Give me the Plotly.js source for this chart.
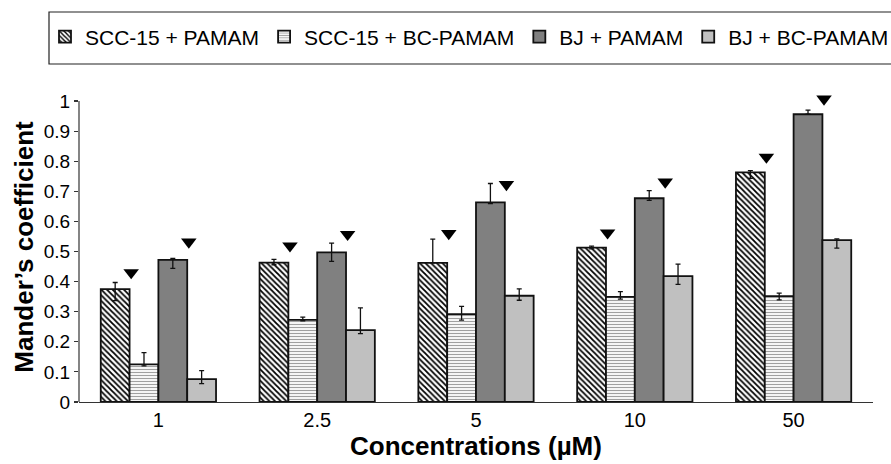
<!DOCTYPE html>
<html>
<head>
<meta charset="utf-8">
<script src="https://cdn.plot.ly/plotly-3.0.1.min.js"></script>
<style>
  html, body { margin: 0; padding: 0; background: #fff; }
  #chart { width: 891px; height: 464px; }
</style>
</head>
<body>
<div id="chart"></div>
<script>
// ---- data ----
const categories = ['1', '2.5', '5', '10', '50'];
const seriesNames = ['SCC-15 + PAMAM', 'SCC-15 + BC-PAMAM', 'BJ + PAMAM', 'BJ + BC-PAMAM'];

const sccPamam      = [0.375, 0.463, 0.462, 0.513, 0.763];
const sccPamamUp    = [0.022, 0.011, 0.079, 0.005, 0.006];
const sccPamamDown  = [0.038, 0.007, 0.000, 0.004, 0.020];

const sccBcPamam     = [0.125, 0.273, 0.292, 0.349, 0.352];
const sccBcPamamUp   = [0.039, 0.009, 0.026, 0.018, 0.010];
const sccBcPamamDown = [0.005, 0.003, 0.020, 0.007, 0.013];

const bjPamam      = [0.472, 0.497, 0.663, 0.677, 0.956];
const bjPamamUp    = [0.005, 0.031, 0.063, 0.025, 0.014];
const bjPamamDown  = [0.028, 0.030, 0.004, 0.007, 0.000];

const bjBcPamam     = [0.076, 0.239, 0.353, 0.418, 0.538];
const bjBcPamamUp   = [0.028, 0.074, 0.023, 0.040, 0.004];
const bjBcPamamDown = [0.015, 0.012, 0.015, 0.027, 0.027];

// significance markers (▼) heights
const sigScc = [0.430, 0.519, 0.560, 0.562, 0.814];
const sigBj  = [0.532, 0.557, 0.723, 0.731, 1.007];

// ---- layout helpers ----
const idx = categories.map((_, i) => i);
const bargap = 0.274;
const nSeries = 4;
const barW = (1 - bargap) / nSeries;
const groupLeft = -(1 - bargap) / 2;
// triangle sits at the right edge of its bar
const triOffset = (k) => groupLeft + barW * (k + 1) + 0.01;

const FONT = 'Liberation Sans, Arial, Helvetica, sans-serif';
const lineCol = '#111';

function errs(up, down) {
  return { type: 'data', symmetric: false, array: up, arrayminus: down,
           color: '#111', thickness: 1.3, width: 2.5 };
}

const traces = [
  { type: 'bar', name: seriesNames[0], x: idx, y: sccPamam, error_y: errs(sccPamamUp, sccPamamDown),
    marker: { color: '#ffffff', line: { color: lineCol, width: 1.8 },
              pattern: { shape: '\\', fgcolor: '#000000', bgcolor: '#ffffff', size: 4, solidity: 0.45 } } },
  { type: 'bar', name: seriesNames[1], x: idx, y: sccBcPamam, error_y: errs(sccBcPamamUp, sccBcPamamDown),
    marker: { color: '#ffffff', line: { color: lineCol, width: 1.8 },
              pattern: { shape: '-', fgcolor: '#a0a0a0', bgcolor: '#ffffff', size: 3, solidity: 0.4 } } },
  { type: 'bar', name: seriesNames[2], x: idx, y: bjPamam, error_y: errs(bjPamamUp, bjPamamDown),
    marker: { color: '#808080', line: { color: lineCol, width: 1.8 } } },
  { type: 'bar', name: seriesNames[3], x: idx, y: bjBcPamam, error_y: errs(bjBcPamamUp, bjBcPamamDown),
    marker: { color: '#c0c0c0', line: { color: lineCol, width: 1.8 } } },
  { type: 'scatter', mode: 'markers', showlegend: false, cliponaxis: false, hoverinfo: 'skip',
    x: idx.map(i => i + triOffset(0)), y: sigScc,
    marker: { symbol: 'triangle-down', size: 13.5, color: '#000' } },
  { type: 'scatter', mode: 'markers', showlegend: false, cliponaxis: false, hoverinfo: 'skip',
    x: idx.map(i => i + triOffset(2)), y: sigBj,
    marker: { symbol: 'triangle-down', size: 13.5, color: '#000' } }
];

const yTop = 1.03;   // headroom so the top marker is kept
const L = 79, R = 18, T = 92, B = 62;
const plotH = 464 - T - B, plotW = 891 - L - R;
const px2x = (px) => (px - L) / plotW;
const py2y = (py) => (464 - B - py) / plotH;

const layout = {
  width: 891, height: 464,
  margin: { l: L, r: R, t: T, b: B, autoexpand: false },
  paper_bgcolor: '#fff', plot_bgcolor: '#fff',
  font: { family: FONT, color: '#000', size: 19 },
  barmode: 'group', bargap: bargap, bargroupgap: 0,
  showlegend: true,
  legend: {
    orientation: 'h', x: px2x(45), xanchor: 'left', y: py2y(37), yanchor: 'middle',
    font: { family: FONT, size: 21, color: '#000' },
    bgcolor: 'rgba(0,0,0,0)', borderwidth: 0, traceorder: 'normal'
  },
  shapes: [
    { type: 'rect', xref: 'paper', yref: 'paper',
      x0: px2x(49), x1: px2x(900), y0: py2y(64), y1: py2y(12),
      line: { color: '#222', width: 1.2 }, fillcolor: 'rgba(0,0,0,0)', layer: 'below' },
    { type: 'line', xref: 'paper', yref: 'y', x0: 0, x1: 0, y0: 0, y1: 1,
      line: { color: '#333', width: 1.2 } }
  ],
  xaxis: {
    type: 'linear', range: [-0.5, categories.length - 0.5],
    tickvals: idx, ticktext: categories, ticks: '', showgrid: false, zeroline: false,
    showline: true, linecolor: '#333', linewidth: 1.2,
    tickfont: { family: FONT, size: 20, color: '#000' },
    title: { text: 'Concentrations (µM)', font: { family: FONT, size: 26, color: '#000', weight: 'bold' }, standoff: 6 }
  },
  yaxis: {
    range: [0, yTop], tickvals: [0, 0.1, 0.2, 0.3, 0.4, 0.5, 0.6, 0.7, 0.8, 0.9, 1],
    showgrid: false, zeroline: false, showline: false,
    ticks: 'outside', ticklen: 4, tickcolor: '#333', tickwidth: 1.2,
    tickfont: { family: FONT, size: 19, color: '#000' },
    title: { text: 'Mander’s coefficient', font: { family: FONT, size: 26, color: '#000', weight: 'bold' }, standoff: 2 }
  }
};

Plotly.newPlot('chart', traces, layout, { displayModeBar: false, staticPlot: true });
</script>
</body>
</html>
